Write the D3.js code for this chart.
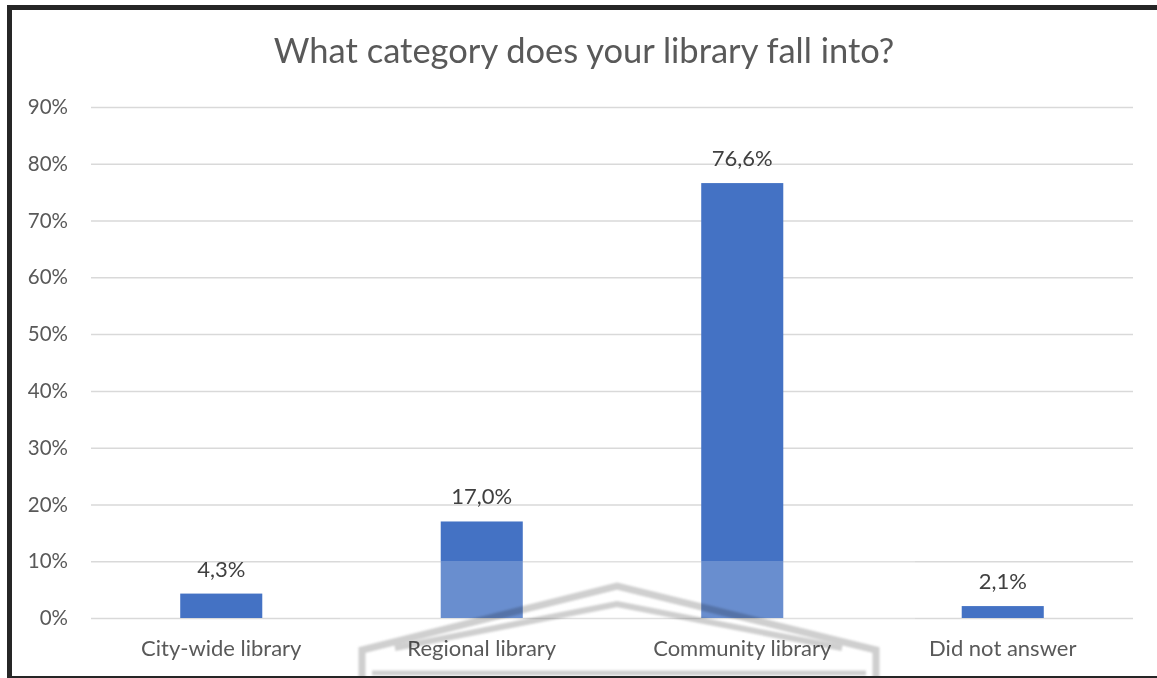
<!DOCTYPE html>
<html>
<head>
<meta charset="utf-8">
<script src="https://cdn.jsdelivr.net/npm/d3@7"></script>
<style>
  html, body { margin: 0; padding: 0; background: #ffffff; }
  svg { display: block; }
  text { font-family: Lato, "Open Sans", sans-serif; }
</style>
</head>
<body>
<svg id="chart" width="1157" height="678"></svg>
<script>
// Survey answers: share of respondents per library category
const categories = ["City-wide library", "Regional library", "Community library", "Did not answer"];
const shares = [0.043, 0.170, 0.766, 0.021];
const valueLabels = ["4,3%", "17,0%", "76,6%", "2,1%"];
const tickValues = [0, 0.1, 0.2, 0.3, 0.4, 0.5, 0.6, 0.7, 0.8, 0.9];
const title = "What category does your library fall into?";

const svg = d3.select("#chart");
const W = 1157, H = 678;
const plot = { left: 91, right: 1133, top: 107, bottom: 618 };

svg.append("rect").attr("width", W).attr("height", H).attr("fill", "#ffffff");

const defs = svg.append("defs");
defs.append("filter").attr("id", "soft")
  .append("feGaussianBlur").attr("stdDeviation", 1.2);

const x = d3.scaleBand()
  .domain(categories)
  .range([plot.left, plot.right])
  .paddingInner(0.685)
  .paddingOuter(0.3425);

const y = d3.scaleLinear().domain([0, 0.9]).range([plot.bottom, plot.top]);

// Horizontal gridlines and percent tick labels
const yAxis = d3.axisLeft(y)
  .tickValues(tickValues)
  .tickSize(-(plot.right - plot.left))
  .tickPadding(23)
  .tickFormat(d3.format(".0%"));

const gy = svg.append("g")
  .attr("transform", `translate(${plot.left},0)`)
  .call(yAxis);
gy.select(".domain").remove();
gy.selectAll(".tick line").attr("stroke", "#d9d9d9").attr("stroke-width", 1.5);
gy.selectAll(".tick text")
  .attr("fill", "#595959")
  .style("font-size", "20.5px")
  .style("font-family", "Lato, 'Open Sans', sans-serif");

// Bars
svg.append("g").selectAll("rect")
  .data(categories)
  .join("rect")
  .attr("x", d => x(d))
  .attr("width", x.bandwidth())
  .attr("y", (d, i) => y(shares[i]))
  .attr("height", (d, i) => y(0) - y(shares[i]))
  .attr("fill", "#4472c4");

// Pale stamp area near the bottom centre (lightens what lies under it)
svg.append("rect")
  .attr("x", 340).attr("y", 561).attr("width", 575).attr("height", 117)
  .attr("fill", "#ffffff").attr("opacity", 0.2);

// Value labels above bars
svg.append("g").selectAll("text")
  .data(categories)
  .join("text")
  .attr("x", d => x(d) + x.bandwidth() / 2)
  .attr("y", (d, i) => y(shares[i]) - 17)
  .attr("text-anchor", "middle")
  .attr("fill", "#404040")
  .style("font-size", "22px")
  .text((d, i) => valueLabels[i]);

// Category axis labels
const xAxis = d3.axisBottom(x).tickSize(0).tickPadding(22);
const gx = svg.append("g")
  .attr("transform", `translate(0,${plot.bottom})`)
  .call(xAxis);
gx.select(".domain").remove();
gx.selectAll(".tick text")
  .attr("fill", "#595959")
  .style("font-size", "22px")
  .style("font-family", "Lato, 'Open Sans', sans-serif");

// Title
svg.append("text")
  .attr("x", 584)
  .attr("y", 63)
  .attr("text-anchor", "middle")
  .attr("fill", "#595959")
  .style("font-size", "34.5px")
  .text(title);

// Roof outline of the stamp
const roof = svg.append("g")
  .attr("fill", "none")
  .attr("stroke", "#cfcfcf")
  .attr("stroke-linejoin", "miter")
  .attr("filter", "url(#soft)")
  .style("mix-blend-mode", "multiply");
roof.append("path")
  .attr("d", "M362,678 L362,650 L617,586 L876,650 L876,678")
  .attr("stroke-width", 7);
roof.append("path")
  .attr("d", "M395,648 L617,604 L842,648")
  .attr("stroke-width", 6);
roof.append("path")
  .attr("d", "M372,673 L866,673")
  .attr("stroke-width", 5);

// Dark frame around the chart
svg.append("rect")
  .attr("x", 9.5).attr("y", 7.5)
  .attr("width", 1200).attr("height", 671)
  .attr("fill", "none")
  .attr("stroke", "#262626")
  .attr("stroke-width", 5);
</script>
</body>
</html>
